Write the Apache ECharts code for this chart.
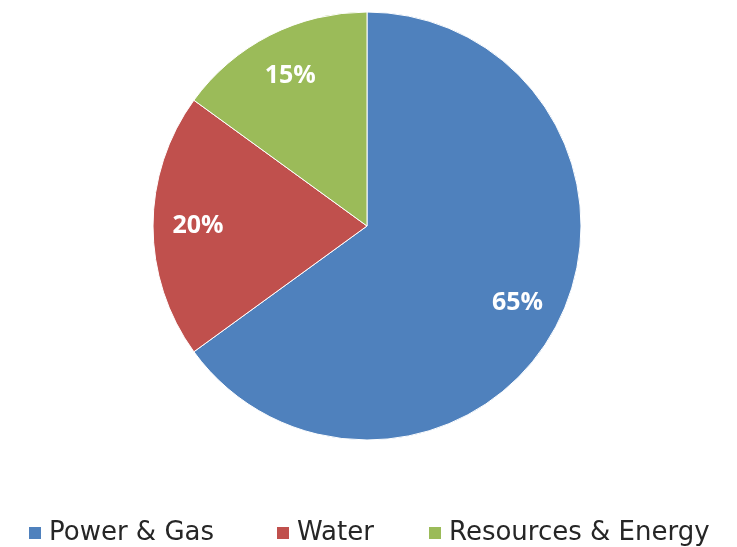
<!DOCTYPE html>
<html><head><meta charset="utf-8">
<script src="https://cdn.jsdelivr.net/npm/echarts@6/dist/echarts.min.js"></script>
<style>html,body{margin:0;padding:0;background:#fff}#c{width:737px;height:547px}</style>
</head><body><div id="c"></div>
<script>
const categories = ['Power & Gas', 'Water', 'Resources & Energy'];
const values = [65, 20, 15];
const colors = ['#4F81BD', '#C0504D', '#9BBB59'];
const legendLeft = [22, 270, 422];

const chart = echarts.init(document.getElementById('c'), null, {renderer: 'canvas'});
const data = categories.map((n, i) => ({name: n, value: values[i], itemStyle: {color: colors[i]}}));
chart.setOption({
  animation: false,
  legend: categories.map((n, i) => ({
    top: 515, left: legendLeft[i],
    itemWidth: 14, itemHeight: 14, itemGap: 0,
    icon: 'rect', selectedMode: false,
    textStyle: {fontFamily: 'DejaVu Sans', fontSize: 26, color: '#262626', padding: [0, 0, 0, 2]},
    data: [n]
  })),
  series: [{
    type: 'pie', center: [367, 226], radius: [0, 214],
    startAngle: 90, clockwise: true, silent: true,
    label: {show: false}, labelLine: {show: false},
    itemStyle: {borderColor: '#fff', borderWidth: 1},
    data: data
  }, {
    type: 'pie', center: [367, 226], radius: [118, 214],
    startAngle: 90, clockwise: true, silent: true,
    itemStyle: {color: 'transparent', borderWidth: 0},
    label: {show: true, position: 'inside', formatter: '{c}%', color: '#fff',
      fontFamily: 'Open Sans', fontWeight: 'bold', fontSize: 25},
    labelLine: {show: false},
    data: categories.map((n, i) => ({name: n + ' ', value: values[i], itemStyle: {color: 'transparent'}}))
  }]
});
</script></body></html>
